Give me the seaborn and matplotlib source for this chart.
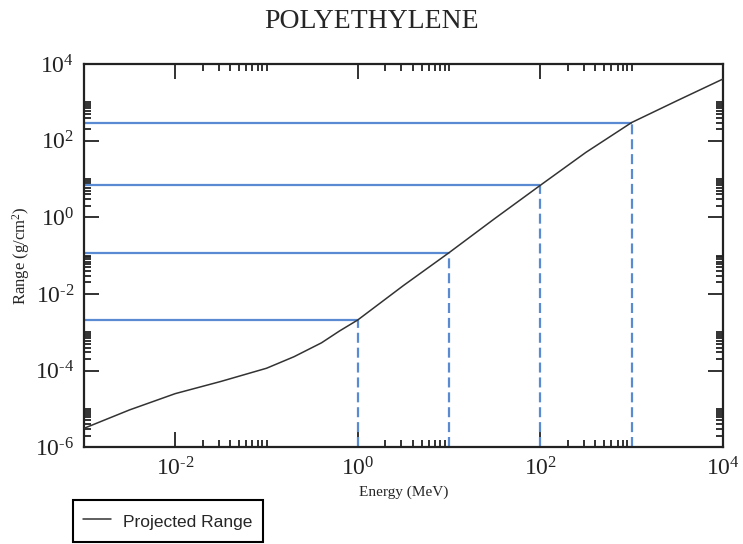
import numpy as np
import pandas as pd
import seaborn as sns
import matplotlib.pyplot as plt
from matplotlib.ticker import FixedLocator, FuncFormatter, NullFormatter

# proton projected range in polyethylene
energy = [0.001, 0.00316, 0.01, 0.0316, 0.1, 0.2, 0.4, 0.63, 1.0, 3.16, 10.0,
          31.6, 100.0, 316.0, 1000.0, 3160.0, 10000.0]
proj_range = [3.1e-6, 9.4e-6, 2.5e-5, 5.2e-5, 1.15e-4, 2.3e-4, 5.3e-4, 1.08e-3,
              2.1e-3, 1.66e-2, 0.12, 0.93, 6.9, 50.0, 300.0, 1120.0, 4100.0]

# guide lines drawn at these energies
guide_energy = [1.0, 10.0, 100.0, 1000.0]
guide_range = [2.1e-3, 0.12, 6.9, 300.0]

xlim = (1e-3, 1e4)
ylim = (1e-6, 1e4)
x_major = [1e-2, 1e0, 1e2, 1e4]
y_major = [1e-6, 1e-4, 1e-2, 1e0, 1e2, 1e4]

df = pd.DataFrame({"Energy": energy, "Range": proj_range})

sns.set_style("ticks")
plt.rcParams["font.family"] = ["Liberation Serif", "DejaVu Serif"]
plt.rcParams["mathtext.fontset"] = "custom"
plt.rcParams["mathtext.rm"] = "Liberation Serif"
plt.rcParams["mathtext.it"] = "Liberation Serif:italic"

fig = plt.figure(figsize=(7.43, 5.44), dpi=100)
ax = fig.add_axes([0.113, 0.178, 0.86, 0.704])

blue = "#5a8ad2"
ax.hlines(guide_range, xlim[0], guide_energy, colors=blue, lw=1.6, zorder=2)
ax.vlines(guide_energy, ylim[0], guide_range, colors=blue, lw=1.6,
          linestyles=(0, (4.5, 2.2)), zorder=2)

sns.lineplot(data=df, x="Energy", y="Range", ax=ax, color="#333333", lw=1.1,
             label="Projected Range", zorder=3)

ax.set_xscale("log")
ax.set_yscale("log")
ax.set_xlim(*xlim)
ax.set_ylim(*ylim)


def pow10(v, pos):
    p = int(round(np.log10(v)))
    return r"$10^{\text{%d}}$" % p


ax.xaxis.set_major_locator(FixedLocator(x_major))
ax.yaxis.set_major_locator(FixedLocator(y_major))
x_minor = [k * 10.0 ** p for p in (-4, -2, 0, 2) for k in range(2, 11)]
y_minor = [k * 10.0 ** p for p in (-6, -4, -2, 0, 2) for k in range(2, 11)]
ax.xaxis.set_minor_locator(FixedLocator(x_minor))
ax.yaxis.set_minor_locator(FixedLocator(y_minor))
ax.xaxis.set_major_formatter(FuncFormatter(pow10))
ax.yaxis.set_major_formatter(FuncFormatter(pow10))
ax.xaxis.set_minor_formatter(NullFormatter())
ax.yaxis.set_minor_formatter(NullFormatter())

ax.tick_params(which="both", direction="in", top=True, right=True,
               colors="#222222", width=1.3)
ax.tick_params(which="major", length=11, labelsize=17, pad=7)
ax.tick_params(which="minor", length=5)
for side in ax.spines.values():
    side.set_linewidth(1.6)
    side.set_color("#222222")

ax.set_xlabel("Energy (MeV)", fontsize=11, labelpad=4)
ax.set_ylabel("Range (g/cm$^{2}$)", fontsize=12, labelpad=2)
fig.suptitle("POLYETHYLENE", fontsize=20, y=0.983)

leg = ax.legend(loc="upper left", bbox_to_anchor=(0.0983, 0.0809),
                bbox_transform=fig.transFigure, fancybox=False,
                frameon=True, handlelength=1.6, handletextpad=0.7,
                handleheight=1.5, borderpad=0.6, borderaxespad=0,
                prop={"family": "Liberation Sans", "size": 12.5})
leg.get_frame().set_edgecolor("black")
leg.get_frame().set_linewidth(1.5)
leg.get_frame().set_alpha(1)

fig.savefig("out.png", dpi=100)
